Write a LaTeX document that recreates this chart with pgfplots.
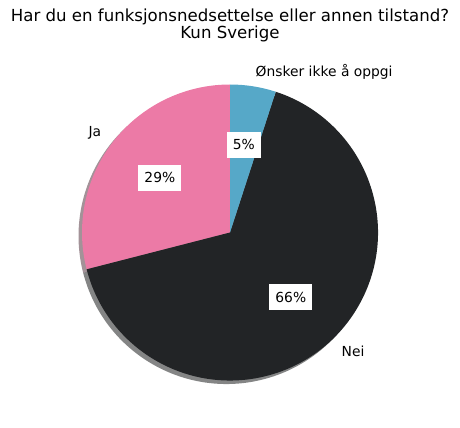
\documentclass[border=0pt]{standalone}
\usepackage{pgfplots}
\pgfplotsset{compat=1.18}
\usepackage{pgfplotstable}
\usepackage{fontspec}
\setmainfont{DejaVu Sans}

\definecolor{cJa}{RGB}{236,122,166}
\definecolor{cNei}{RGB}{34,36,38}
\definecolor{cOns}{RGB}{86,168,200}

% share of answers, in percent
\pgfplotstableread{
slice value
Ja 29
Nei 66
Onsker 5
}\piedata

\begin{document}
\begin{tikzpicture}
\pgfplotstablegetelem{0}{value}\of\piedata \edef\vJa{\pgfplotsretval}
\pgfplotstablegetelem{1}{value}\of\piedata \edef\vNei{\pgfplotsretval}
\pgfplotstablegetelem{2}{value}\of\piedata \edef\vOns{\pgfplotsretval}
\pgfmathsetmacro\aA{90}
\pgfmathsetmacro\aB{\aA+3.6*\vJa}
\pgfmathsetmacro\aC{\aB+3.6*\vNei}
\pgfmathsetmacro\aD{\aC+3.6*\vOns}
\pgfmathsetmacro\mJa{(\aA+\aB)/2}
\pgfmathsetmacro\mNei{(\aB+\aC)/2}
\pgfmathsetmacro\mOns{(\aC+\aD)/2}
\def\R{1.48in}
\def\Rl{1.628in}
\def\Rp{0.888in}
\begin{axis}[
  scale only axis, width=4.6in, height=4.27in,
  xmin=0, xmax=460, ymin=0, ymax=427,
  hide axis, clip=false,
]
\addplot[draw=none] coordinates {(0,0) (460,427)};
% shadow
\fill[cJa!30!black, opacity=0.5] (axis cs:226.5,191) -- ++(\aA:\R) arc[start angle=\aA, end angle=\aB, radius=\R] -- cycle;
\fill[cNei!30!black, opacity=0.5] (axis cs:226.5,191) -- ++(\aB:\R) arc[start angle=\aB, end angle=\aC, radius=\R] -- cycle;
\fill[cOns!30!black, opacity=0.5] (axis cs:226.5,191) -- ++(\aC:\R) arc[start angle=\aC, end angle=\aD, radius=\R] -- cycle;
% wedges
\fill[cJa] (axis cs:230,194.5) -- ++(\aA:\R) arc[start angle=\aA, end angle=\aB, radius=\R] -- cycle;
\fill[cNei] (axis cs:230,194.5) -- ++(\aB:\R) arc[start angle=\aB, end angle=\aC, radius=\R] -- cycle;
\fill[cOns] (axis cs:230,194.5) -- ++(\aC:\R) arc[start angle=\aC, end angle=\aD, radius=\R] -- cycle;
% labels
\path[font=\fontsize{10}{12}\selectfont, inner sep=0pt]
  (axis cs:230,194.5) ++(\mJa:\Rl) node[anchor=east] {Ja}
  (axis cs:230,194.5) ++(\mNei:\Rl) node[anchor=west] {Nei}
  (axis cs:230,194.5) ++(\mOns:\Rl) node[anchor=west] {Ønsker ikke å oppgi};
\path[font=\fontsize{10}{12}\selectfont, inner xsep=4.4pt, inner ysep=5.6pt, text height=7.3pt, text depth=0.2pt]
  (axis cs:230,194.5) ++(\mJa:\Rp) node[fill=white] {\vJa\%}
  (axis cs:230,194.5) ++(\mNei:\Rp) node[fill=white] {\vNei\%}
  (axis cs:230,194.5) ++(\mOns:\Rp) node[fill=white] {\vOns\%};
% title (base anchor sits on the last line)
\node[font=\fontsize{12}{11.5}\selectfont, align=center, anchor=base, inner sep=0pt] at (axis cs:230,388)
  {Har du en funksjonsnedsettelse eller annen tilstand?\\Kun Sverige};
\end{axis}
\end{tikzpicture}
\end{document}
